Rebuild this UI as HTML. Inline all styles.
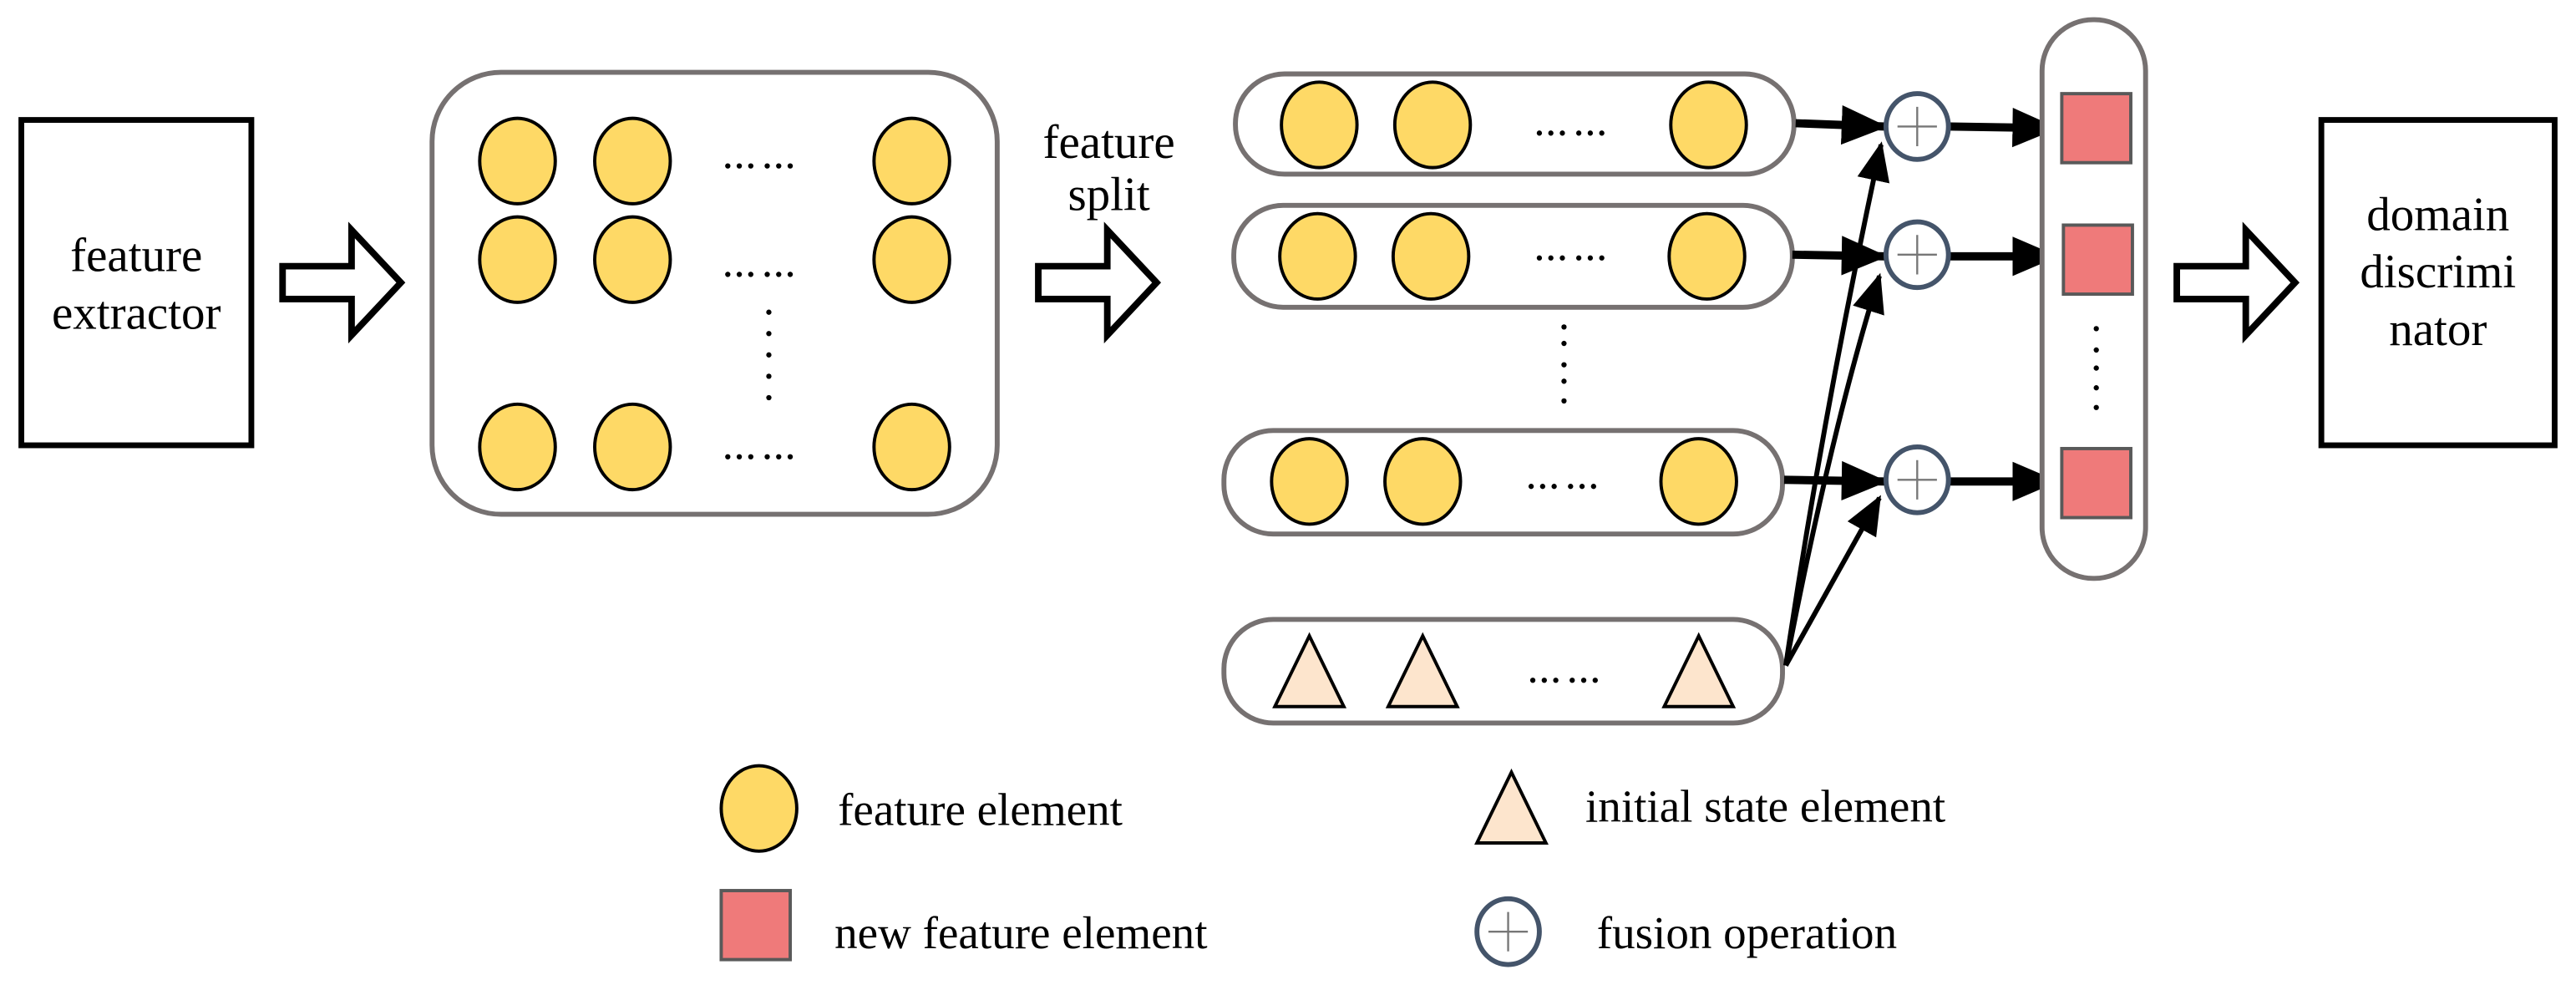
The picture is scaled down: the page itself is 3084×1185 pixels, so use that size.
<!DOCTYPE html>
<html><head><style>html,body{margin:0;padding:0;background:#fff}svg{display:block}text{font-family:"Liberation Serif",serif}</style></head><body>
<svg width="3084" height="1185" viewBox="0 0 1568 602.5" preserveAspectRatio="none" xmlns="http://www.w3.org/2000/svg">
<defs>
<marker id="ah" markerWidth="28" markerHeight="26" refX="26" refY="13" orient="auto" markerUnits="userSpaceOnUse" viewBox="0 0 28 26">
<path d="M0,1 L28,13 L0,25 z" fill="#000"/></marker>
<marker id="ah2" markerWidth="24" markerHeight="22" refX="22" refY="11" orient="auto" markerUnits="userSpaceOnUse" viewBox="0 0 24 22">
<path d="M0,1 L24,11 L0,21 z" fill="#000"/></marker>
<g id="c"><ellipse rx="23" ry="26" fill="#FED966" stroke="#000" stroke-width="2"/></g>
<g id="t"><path d="M-21,21 L0,-22 L21,21 z" fill="#FDE5CD" stroke="#000" stroke-width="2"/></g>
<g id="p"><ellipse rx="19" ry="20" fill="#fff" stroke="#44546A" stroke-width="3"/><path d="M-12,0H12M0,-12V12" stroke="#777" stroke-width="1.2"/></g>
<g id="s"><rect x="-21" y="-21" width="42" height="42" fill="#EF7A7A" stroke="#595959" stroke-width="2"/></g>
<g id="d" fill="#000"><circle cx="0" cy="0" r="1.6"/><circle cx="7" cy="0" r="1.6"/><circle cx="14" cy="0" r="1.6"/><circle cx="24" cy="0" r="1.6"/><circle cx="31" cy="0" r="1.6"/><circle cx="38" cy="0" r="1.6"/></g>
<g id="ha"><path d="M0,-10 H42 V-32 L72,0 L42,32 V10 H0 z" fill="#fff" stroke="#000" stroke-width="4"/></g>
</defs>

<rect x="13" y="73" width="140" height="198" fill="#fff" stroke="#000" stroke-width="3.5"/>
<text x="83" y="165" font-size="29" text-anchor="middle">feature</text>
<text x="83" y="200" font-size="29" text-anchor="middle">extractor</text>
<use href="#ha" x="172" y="172"/>

<rect x="263" y="44" width="344" height="269" rx="42" fill="#fff" stroke="#767171" stroke-width="3"/>
<use href="#c" x="315" y="98"/><use href="#c" x="385" y="98"/><use href="#c" x="555" y="98"/>
<use href="#c" x="315" y="158"/><use href="#c" x="385" y="158"/><use href="#c" x="555" y="158"/>
<use href="#c" x="315" y="272"/><use href="#c" x="385" y="272"/><use href="#c" x="555" y="272"/>
<use href="#d" x="443" y="101"/><use href="#d" x="443" y="167"/><use href="#d" x="443" y="278"/>
<g fill="#000"><circle cx="468" cy="190" r="1.6"/><circle cx="468" cy="203" r="1.6"/><circle cx="468" cy="216" r="1.6"/><circle cx="468" cy="229" r="1.6"/><circle cx="468" cy="242" r="1.6"/></g>

<text x="675" y="96" font-size="29" text-anchor="middle">feature</text>
<text x="675" y="128" font-size="29" text-anchor="middle">split</text>
<use href="#ha" x="632" y="172"/>

<rect x="752" y="45" width="340" height="61" rx="30" fill="#fff" stroke="#767171" stroke-width="3"/>
<rect x="751" y="125" width="340" height="62" rx="30" fill="#fff" stroke="#767171" stroke-width="3"/>
<rect x="745" y="262" width="340" height="63" rx="30" fill="#fff" stroke="#767171" stroke-width="3"/>
<rect x="745" y="377" width="340" height="63" rx="30" fill="#fff" stroke="#767171" stroke-width="3"/>
<use href="#c" x="803" y="76"/><use href="#c" x="872" y="76"/><use href="#c" x="1040" y="76"/>
<use href="#c" x="802" y="156"/><use href="#c" x="871" y="156"/><use href="#c" x="1039" y="156"/>
<use href="#c" x="797" y="293"/><use href="#c" x="866" y="293"/><use href="#c" x="1034" y="293"/>
<use href="#t" x="797" y="409"/><use href="#t" x="866" y="409"/><use href="#t" x="1034" y="409"/>
<use href="#d" x="937" y="81"/><use href="#d" x="937" y="157"/><use href="#d" x="932" y="296"/><use href="#d" x="933" y="414"/>
<g fill="#000"><circle cx="952" cy="199" r="1.6"/><circle cx="952" cy="209" r="1.6"/><circle cx="952" cy="222" r="1.6"/><circle cx="952" cy="232" r="1.6"/><circle cx="952" cy="244" r="1.6"/></g>

<g stroke="#000" stroke-width="5" fill="none" marker-end="url(#ah)">
<path d="M1093,75 L1147,77"/>
<path d="M1091,155 L1147,156"/>
<path d="M1086,292 L1147,293"/>
<path d="M1187,77 L1251,78"/>
<path d="M1187,156 L1251,156"/>
<path d="M1187,293 L1251,293"/>
</g>
<g stroke="#000" stroke-width="3" fill="none" marker-end="url(#ah2)">
<path d="M1087,405 Q1110,250 1145,88"/>
<path d="M1087,405 Q1115,260 1144,168"/>
<path d="M1087,405 L1144,303"/>
</g>
<use href="#p" x="1167" y="77"/><use href="#p" x="1167" y="155"/><use href="#p" x="1167" y="292"/>

<rect x="1243" y="12" width="63" height="340" rx="31" fill="#fff" stroke="#767171" stroke-width="3"/>
<use href="#s" x="1276" y="78"/><use href="#s" x="1277" y="158"/><use href="#s" x="1276" y="294"/>
<g fill="#000"><circle cx="1276" cy="200" r="1.6"/><circle cx="1276" cy="213" r="1.6"/><circle cx="1276" cy="224" r="1.6"/><circle cx="1276" cy="236" r="1.6"/><circle cx="1276" cy="248" r="1.6"/></g>

<use href="#ha" x="1325" y="172"/>
<rect x="1413" y="73" width="142" height="198" fill="#fff" stroke="#000" stroke-width="3.5"/>
<text x="1484" y="140" font-size="29" text-anchor="middle">domain</text>
<text x="1484" y="175" font-size="29" text-anchor="middle">discrimi</text>
<text x="1484" y="210" font-size="29" text-anchor="middle">nator</text>

<use href="#c" x="462" y="492"/>
<text x="510" y="502" font-size="28">feature element</text>
<use href="#t" x="920" y="492"/>
<text x="965" y="500" font-size="28">initial state element</text>
<use href="#s" x="460" y="563"/>
<text x="508" y="577" font-size="28">new feature element</text>
<use href="#p" x="918" y="567"/>
<text x="972" y="577" font-size="28">fusion operation</text>
</svg>
</body></html>
